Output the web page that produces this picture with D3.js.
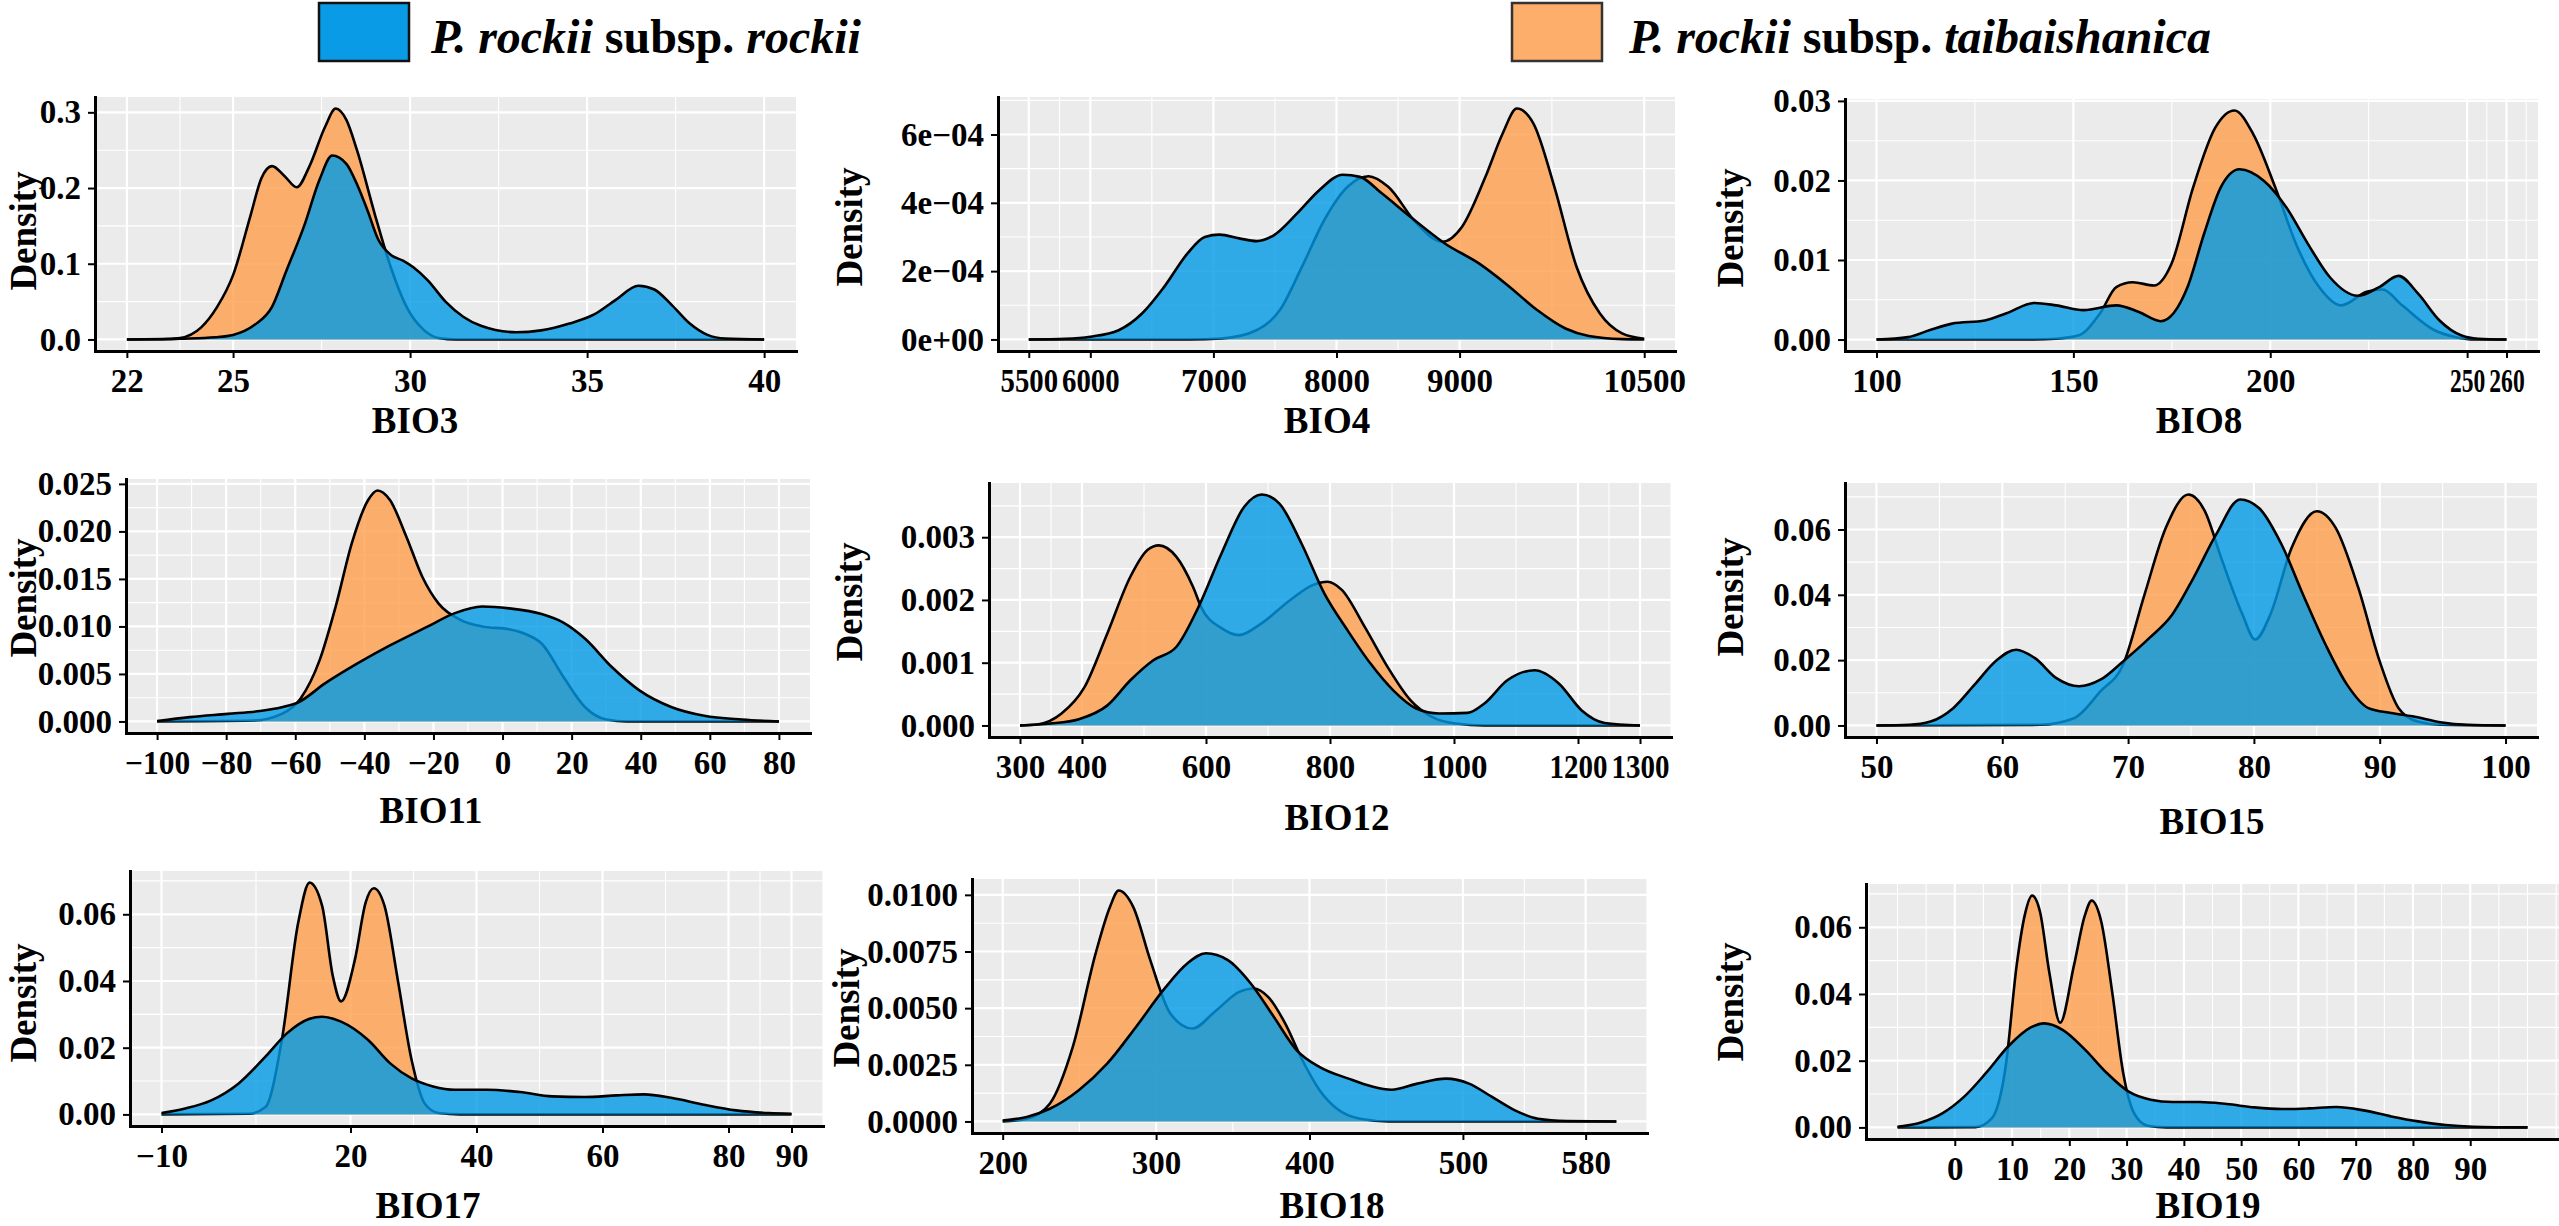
<!DOCTYPE html>
<html>
<head>
<meta charset="utf-8">
<script src="https://cdn.jsdelivr.net/npm/d3@7"></script>
<style>
  html, body { margin: 0; padding: 0; background: #fff; }
  svg { display: block; }
  text { font-family: "Liberation Serif", "Times New Roman", serif; font-weight: bold; }
</style>
</head>
<body>
<div id="chart"></div>
<script>
// panels (one bioclimatic variable each) and the two groups
const variables = ["BIO3", "BIO4", "BIO8", "BIO11", "BIO12", "BIO15", "BIO17", "BIO18", "BIO19"];
const groups = ["rockii", "taibaishanica"];

// x breaks per panel
const xTicks = [
  [22, 25, 30, 35, 40],
  [5500, 6000, 7000, 8000, 9000, 10500],
  [100, 150, 200, 250, 260],
  [-100, -80, -60, -40, -20, 0, 20, 40, 60, 80],
  [300, 400, 600, 800, 1000, 1200, 1300],
  [50, 60, 70, 80, 90, 100],
  [-10, 20, 40, 60, 80, 90],
  [200, 300, 400, 500, 580],
  [0, 10, 20, 30, 40, 50, 60, 70, 80, 90]
];

// y breaks and their printed labels
const yTicks = [
  [0, 0.1, 0.2, 0.3],
  [0, 2e-4, 4e-4, 6e-4],
  [0, 0.01, 0.02, 0.03],
  [0, 0.005, 0.01, 0.015, 0.02, 0.025],
  [0, 0.001, 0.002, 0.003],
  [0, 0.02, 0.04, 0.06],
  [0, 0.02, 0.04, 0.06],
  [0, 0.0025, 0.005, 0.0075, 0.01],
  [0, 0.02, 0.04, 0.06]
];
const yTickLabels = [
  ["0.0", "0.1", "0.2", "0.3"],
  ["0e+00", "2e\u221204", "4e\u221204", "6e\u221204"],
  ["0.00", "0.01", "0.02", "0.03"],
  ["0.000", "0.005", "0.010", "0.015", "0.020", "0.025"],
  ["0.000", "0.001", "0.002", "0.003"],
  ["0.00", "0.02", "0.04", "0.06"],
  ["0.00", "0.02", "0.04", "0.06"],
  ["0.0000", "0.0025", "0.0050", "0.0075", "0.0100"],
  ["0.00", "0.02", "0.04", "0.06"]
];

// density curves: [value, density]
const rockii = [
  [[22,0],[23,0.0003],[23.5,0.001],[24.5,0.003],[25,0.006],[25.6,0.019],[26.1,0.043],[26.5,0.09],[27,0.149],[27.45,0.212],[27.8,0.243],[28.2,0.232],[28.5,0.205],[28.8,0.17],[29.1,0.132],[29.45,0.112],[29.8,0.104],[30.1,0.095],[30.5,0.078],[31,0.05],[31.5,0.03],[32,0.018],[33,0.0095],[33.7,0.012],[34.5,0.021],[35.2,0.033],[35.8,0.052],[36.45,0.071],[36.9,0.066],[37.4,0.045],[37.9,0.021],[38.4,0.006],[38.9,0.0012],[40,0]],
  [[5500,0],[5800,0.000002],[6000,0.000008],[6230,0.000027],[6420,0.000076],[6600,0.000154],[6790,0.000252],[6930,0.0003],[7050,0.000307],[7210,0.000296],[7350,0.000288],[7490,0.000305],[7680,0.000369],[7860,0.000437],[8050,0.000482],[8190,0.000476],[8370,0.000427],[8600,0.000359],[8880,0.000281],[9160,0.000222],[9390,0.000159],[9630,0.000086],[9860,0.000032],[10050,0.00001],[10320,0.000001],[10500,0]],
  [[100,0],[108,0.0003],[113.6,0.0012],[119.2,0.002],[127.5,0.0024],[133,0.0033],[140.1,0.0046],[145.6,0.0043],[152.6,0.0037],[160.9,0.0043],[166.5,0.0035],[172.2,0.0023],[179,0.0066],[183.2,0.0133],[187.4,0.0191],[192.2,0.0214],[198.5,0.0199],[204.1,0.0166],[209.6,0.012],[215.2,0.0078],[222.2,0.0055],[227.7,0.0066],[232.6,0.008],[237.5,0.0058],[243,0.0024],[248.6,0.0005],[252.8,0.0001],[260,0]],
  [[-100,0.00004],[-90.6,0.00046],[-79.6,0.0008],[-70.2,0.0011],[-63.9,0.0015],[-59.2,0.002],[-51.4,0.004],[-42,0.0061],[-32.6,0.008],[-21.6,0.01],[-13.8,0.0114],[-5.9,0.0121],[1.9,0.0119],[11.3,0.0113],[17.6,0.0104],[23.9,0.0087],[31.7,0.0057],[39.5,0.0033],[49,0.0015],[58.4,0.0006],[69.3,0.0002],[80,0]],
  [[300,0],[349,0.00003],[395,0.0001],[441,0.00032],[478,0.00072],[515,0.00104],[552,0.00125],[588,0.00189],[625,0.00274],[662,0.00349],[690,0.00368],[718,0.00354],[754,0.0029],[791,0.0021],[828,0.00152],[865,0.00099],[902,0.00056],[939,0.00027],[976,0.00019],[1022,0.0002],[1049,0.00035],[1086,0.00072],[1130,0.00088],[1169,0.00067],[1206,0.00024],[1243,0.00004],[1300,0]],
  [[50,0],[52.6,0.0002],[54.3,0.0012],[56.1,0.0053],[57.8,0.0125],[59.6,0.0201],[61.1,0.0232],[62.6,0.0206],[64.3,0.0145],[66.1,0.012],[67.8,0.014],[69.6,0.0196],[71.7,0.0268],[73.5,0.0339],[75.2,0.0452],[77,0.0585],[78.9,0.0692],[80.4,0.0666],[82.2,0.0554],[83.9,0.0401],[85.7,0.0247],[87.4,0.0125],[89.1,0.0053],[90.9,0.0038],[92.6,0.0028],[94.8,0.001],[97,0.0002],[100,0]],
  [[-10,0.0004],[-6.4,0.0017],[-2.1,0.0042],[2.2,0.0092],[6.5,0.0173],[9.9,0.0243],[13.4,0.0286],[15.5,0.0293],[18.5,0.0278],[22.8,0.0223],[26.3,0.0153],[29.7,0.0108],[33.1,0.0084],[36.6,0.0074],[41.7,0.0074],[46.9,0.0067],[52,0.0054],[57.2,0.0052],[62.3,0.0057],[66.6,0.006],[70.9,0.005],[76.1,0.0029],[81.2,0.0012],[86.4,0.0004],[90,0.0002]],
  [[200,0.00004],[215.7,0.0002],[230.7,0.00056],[249.4,0.00137],[268.1,0.00255],[286.9,0.00417],[305.6,0.00587],[320.5,0.00698],[332.5,0.00742],[346.8,0.00712],[361.7,0.00609],[376.7,0.00462],[391.7,0.00314],[406.7,0.0024],[425.4,0.00189],[440.3,0.00155],[453.5,0.0014],[470.3,0.00167],[489,0.00189],[504,0.00167],[519,0.00108],[533.9,0.00049],[548.9,0.00012],[567.6,0.00002],[600,0]],
  [[-10,0.0002],[-5.9,0.0015],[-2.1,0.0043],[1.7,0.0093],[5.5,0.0164],[9.4,0.0244],[13.2,0.0299],[15.6,0.0312],[18.9,0.0292],[22.7,0.0234],[26.5,0.0164],[30.3,0.0108],[34.2,0.0083],[38,0.0076],[42.8,0.0076],[47.5,0.007],[52.3,0.006],[57.1,0.0055],[61.8,0.0057],[66.6,0.0061],[71.4,0.0051],[76.2,0.0033],[80.9,0.0018],[85.7,0.0007],[90.5,0.0002],[100,0]]
];

const taibaishanica = [
  [[22,0],[23,0.0004],[23.5,0.002],[24.1,0.016],[24.55,0.043],[25,0.085],[25.5,0.165],[25.8,0.213],[26.1,0.229],[26.45,0.216],[26.8,0.201],[27.15,0.228],[27.6,0.281],[27.9,0.305],[28.2,0.29],[28.5,0.25],[29,0.166],[29.45,0.096],[29.9,0.043],[30.4,0.012],[30.8,0.002],[31.3,0],[40,0]],
  [[5500,0],[6800,0],[7070,0.000003],[7350,0.000027],[7540,0.000086],[7720,0.000213],[7900,0.000349],[8090,0.000447],[8260,0.000478],[8420,0.000447],[8650,0.00034],[8860,0.000286],[9020,0.00033],[9210,0.000476],[9350,0.000603],[9465,0.000676],[9600,0.000632],[9770,0.000447],[9950,0.000213],[10140,0.000076],[10320,0.000018],[10500,0.000002]],
  [[100,0],[140,0],[145.6,0.0001],[151.2,0.0005],[156.8,0.0033],[160.9,0.0066],[165.1,0.0072],[170.5,0.0068],[174.9,0.0095],[180.4,0.0191],[186,0.0266],[190.9,0.0288],[195.7,0.0258],[201.3,0.0191],[206.9,0.0116],[212.4,0.0066],[218,0.0043],[224.5,0.006],[228.5,0.0063],[233.5,0.0043],[241.6,0.0012],[247.2,0.0003],[252,0],[260,0]],
  [[-100,0],[-72,0.0001],[-63.9,0.0008],[-58.5,0.0024],[-53,0.0064],[-48.3,0.0121],[-43.6,0.0188],[-38.9,0.0233],[-36.2,0.0243],[-32.6,0.0233],[-27.9,0.0195],[-23.2,0.0152],[-18.5,0.0124],[-12.2,0.0107],[-5.9,0.01],[1.9,0.0097],[6.6,0.0092],[11.3,0.0082],[17.6,0.0047],[23.9,0.0015],[30.1,0.0002],[36,0],[80,0]],
  [[300,0],[330,0.00002],[367,0.00019],[404,0.00061],[441,0.00147],[478,0.00237],[506,0.0028],[524,0.00287],[552,0.00269],[579,0.00221],[593,0.00187],[625,0.00155],[653,0.00144],[690,0.00163],[736,0.002],[773,0.00224],[796,0.00229],[819,0.00216],[856,0.00157],[893,0.00093],[930,0.0004],[966,0.00013],[1003,0.00003],[1049,0],[1300,0]],
  [[50,0],[63,0.0002],[65.7,0.0022],[67.8,0.0104],[69.6,0.0186],[71.3,0.04],[73,0.0605],[74.8,0.0707],[76.1,0.0656],[77.4,0.0513],[79.1,0.0339],[80.1,0.0263],[81.3,0.0339],[83,0.0544],[85,0.0656],[86.5,0.0605],[88.3,0.0421],[90,0.0196],[91.5,0.0053],[93,0.0012],[94.8,0.0002],[100,0]],
  [[-10,0],[3.9,0.0002],[6.5,0.0022],[9.1,0.0223],[11.7,0.0575],[13.5,0.0695],[15.5,0.0625],[17.2,0.0414],[18.5,0.0339],[20.7,0.0464],[22.4,0.0635],[23.7,0.0678],[25.4,0.0625],[27.5,0.0404],[29.7,0.0163],[31.8,0.0032],[34,0.0004],[37.4,0],[90,0]],
  [[200,0],[215.7,0.00012],[230.7,0.00078],[245.7,0.00329],[260.6,0.00742],[270,0.00948],[275.6,0.01019],[285,0.00948],[296.2,0.00712],[309.3,0.00476],[323.5,0.0041],[339.3,0.00491],[354.2,0.00572],[363.6,0.00587],[373,0.0055],[384.2,0.00432],[395.4,0.0027],[406.7,0.00137],[417.9,0.00056],[432.9,0.00012],[451.6,0],[600,0]],
  [[-10,0],[3.6,0.0001],[6.5,0.0028],[8.9,0.0184],[10.8,0.0485],[12.2,0.0635],[13.5,0.0695],[14.9,0.0645],[16.5,0.0465],[18.4,0.0314],[20.8,0.0485],[22.7,0.0635],[23.9,0.068],[25.6,0.0615],[27.5,0.0404],[29.4,0.0164],[31.3,0.0043],[33.7,0.0005],[37,0],[100,0]]
];

// layout: panel box [left, right, top, bottom] in pixels, axis title and "Density" anchors
const panelBoxes = [
  [95, 796, 97, 351], [998, 1675, 97, 351], [1845, 2538, 99, 351],
  [126, 810, 479, 733], [989, 1671, 483, 737], [1845, 2537, 483, 737],
  [130, 823, 871, 1126], [972, 1647, 879, 1133], [1866, 2559, 884, 1139]
];
const titlePos = [
  [415, 433], [1327, 433], [2199, 433],
  [431, 823], [1337, 830], [2212, 834],
  [428, 1218], [1332, 1218], [2208, 1218]
];
const densityPos = [
  [23, 231], [849, 227], [1730, 228],
  [23, 598], [849, 602], [1730, 597],
  [23, 1003], [846, 1008], [1730, 1002]
];

const width = 2559;
const height = 1226;
const colours = { rockii: "#009AE6", taibaishanica: "#FF9F4B" };
const fontFamily = "'Liberation Serif', 'Times New Roman', serif";

const svg = d3.select("#chart").append("svg")
  .attr("width", width)
  .attr("height", height);

// minor grid like ggplot: halfway between breaks, continued outwards inside the limits
function minorBreaks(major, domain) {
  const out = [];
  for (let i = 0; i < major.length - 1; i++) out.push((major[i] + major[i + 1]) / 2);
  let step = (major[1] - major[0]) / 2;
  for (let v = major[0] - step; v >= domain[0] - 1e-9; v -= step) out.push(v);
  step = (major[major.length - 1] - major[major.length - 2]) / 2;
  for (let v = major[major.length - 1] + step; v <= domain[1] + 1e-9; v += step) out.push(v);
  return out;
}

const fmtX = v => v < 0 ? "\u2212" + Math.abs(v) : String(v);

variables.forEach((name, i) => {
  const [left, right, top, bottom] = panelBoxes[i];
  const both = rockii[i].concat(taibaishanica[i]);
  const xr = d3.extent(both, d => d[0]);
  const ymax = d3.max(both, d => d[1]);
  const pad = (xr[1] - xr[0]) * 0.05;

  const x = d3.scaleLinear().domain([xr[0] - pad, xr[1] + pad]).range([left, right]);
  const y = d3.scaleLinear().domain([-0.05 * ymax, 1.05 * ymax]).range([bottom, top]);

  const g = svg.append("g").attr("class", "panel");

  g.append("rect")
    .attr("x", left).attr("y", top)
    .attr("width", right - left).attr("height", bottom - top)
    .attr("fill", "#EBEBEB");

  // grid
  const grid = g.append("g").attr("stroke", "#fff");
  const xMinor = minorBreaks(xTicks[i], x.domain());
  const yMinor = minorBreaks(yTicks[i], y.domain());
  grid.selectAll(".vmin").data(xMinor).enter().append("line")
    .attr("x1", d => x(d)).attr("x2", d => x(d)).attr("y1", top).attr("y2", bottom)
    .attr("stroke-width", 1.1);
  grid.selectAll(".hmin").data(yMinor).enter().append("line")
    .attr("y1", d => y(d)).attr("y2", d => y(d)).attr("x1", left).attr("x2", right)
    .attr("stroke-width", 1.1);
  grid.selectAll(".vmaj").data(xTicks[i]).enter().append("line")
    .attr("x1", d => x(d)).attr("x2", d => x(d)).attr("y1", top).attr("y2", bottom)
    .attr("stroke-width", 2.2);
  grid.selectAll(".hmaj").data(yTicks[i]).enter().append("line")
    .attr("y1", d => y(d)).attr("y2", d => y(d)).attr("x1", left).attr("x2", right)
    .attr("stroke-width", 2.2);

  // densities: taibaishanica underneath, rockii on top
  const area = d3.area()
    .x(d => x(d[0])).y0(y(0)).y1(d => y(d[1]))
    .curve(d3.curveMonotoneX);
  const line = d3.line()
    .x(d => x(d[0])).y(d => y(d[1]))
    .curve(d3.curveMonotoneX);

  [["taibaishanica", taibaishanica[i]], ["rockii", rockii[i]]].forEach(([grp, pts]) => {
    g.append("path").datum(pts)
      .attr("d", area)
      .attr("fill", colours[grp])
      .attr("fill-opacity", 0.8);
    g.append("path").datum(pts)
      .attr("d", line)
      .attr("fill", "none")
      .attr("stroke", "#000")
      .attr("stroke-width", 2.6)
      .attr("stroke-linejoin", "round");
  });

  // axes
  const xAxis = g.append("g")
    .attr("transform", `translate(0,${bottom})`)
    .call(d3.axisBottom(x).tickValues(xTicks[i]).tickFormat(fmtX)
      .tickSizeInner(7).tickSizeOuter(0).tickPadding(11));
  const yAxis = g.append("g")
    .attr("transform", `translate(${left},0)`)
    .call(d3.axisLeft(y).tickValues(yTicks[i]).tickFormat((d, k) => yTickLabels[i][k])
      .tickSizeInner(7).tickSizeOuter(0).tickPadding(7));

  [xAxis, yAxis].forEach(ax => {
    ax.attr("font-family", fontFamily).attr("font-size", 33).attr("font-weight", "bold");
    ax.select(".domain").attr("stroke", "#000").attr("stroke-width", 3).attr("stroke-linecap", "square");
    ax.selectAll(".tick line").attr("stroke", "#000").attr("stroke-width", 2);
    ax.selectAll(".tick text").attr("fill", "#000");
  });

  // squeeze x labels that sit too close to a neighbour (e.g. 250 / 260)
  const pos = xTicks[i].map(v => x(v));
  xAxis.selectAll(".tick text").each(function (d, k) {
    const gapL = k > 0 ? pos[k] - pos[k - 1] : Infinity;
    const gapR = k < pos.length - 1 ? pos[k + 1] - pos[k] : Infinity;
    const room = Math.min(gapL, gapR) - 4;
    const len = this.getComputedTextLength();
    if (len > room) d3.select(this).attr("transform", `scale(${room / len},1)`);
  });

  // titles
  g.append("text")
    .attr("x", titlePos[i][0]).attr("y", titlePos[i][1])
    .attr("text-anchor", "middle")
    .attr("font-size", 37)
    .text(name);

  g.append("text")
    .attr("transform", `translate(${densityPos[i][0]},${densityPos[i][1]}) rotate(-90)`)
    .attr("text-anchor", "middle")
    .attr("dominant-baseline", "central")
    .attr("font-size", 37)
    .text("Density");
});

// legend
const legend = svg.append("g").attr("class", "legend");
const legendKeys = [
  { x: 319, fill: "#0A9BE6", stroke: "#111", tx: 431, parts: [["P. rockii", true], [" subsp. ", false], [groups[0], true]] },
  { x: 1512, fill: "#FDAE6B", stroke: "#333", tx: 1629, parts: [["P. rockii", true], [" subsp. ", false], [groups[1], true]] }
];
legendKeys.forEach(k => {
  legend.append("rect")
    .attr("x", k.x).attr("y", 3)
    .attr("width", 90).attr("height", 58)
    .attr("fill", k.fill)
    .attr("stroke", k.stroke)
    .attr("stroke-width", 2.5);
  const t = legend.append("text")
    .attr("x", k.tx).attr("y", 53)
    .attr("font-size", 48)
    .attr("xml:space", "preserve");
  k.parts.forEach(([s, it]) => {
    t.append("tspan")
      .attr("font-style", it ? "italic" : "normal")
      .text(s);
  });
});
</script>
</body>
</html>
